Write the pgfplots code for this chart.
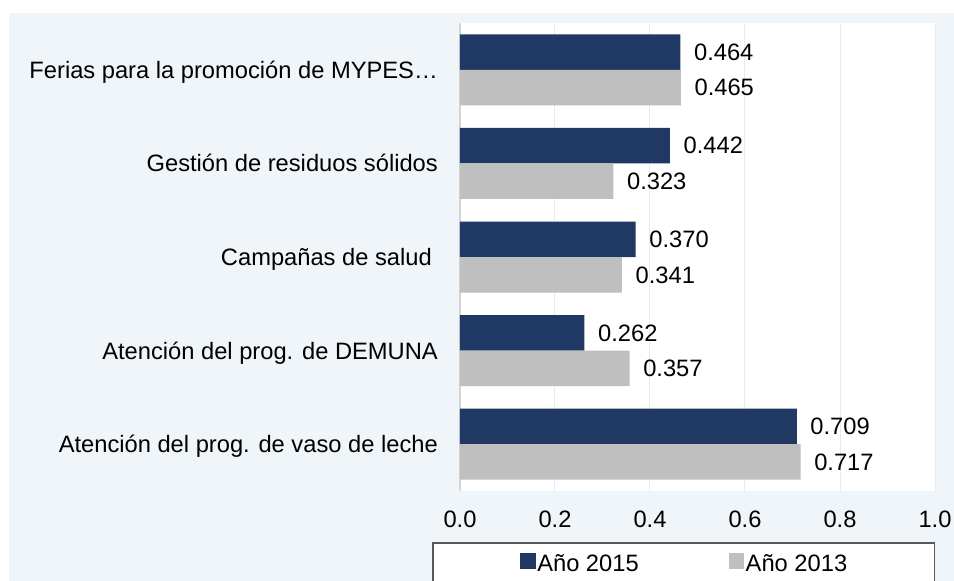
\documentclass[border=0pt]{standalone}
\usepackage{pgfplots}
\pgfplotsset{compat=1.18}
\usepackage{fontspec}
\setmainfont{Liberation Sans}
\definecolor{c15}{HTML}{203864}
\definecolor{c13}{HTML}{BFBFBF}
\definecolor{panel}{HTML}{F0F5FA}
\definecolor{gridc}{HTML}{E4EBF3}
\newcommand{\fs}{\fontsize{23.7}{28}\selectfont}
\begin{document}
\begin{tikzpicture}[x=1pt,y=1pt]
\fill[white] (0,0) rectangle (954,-581);
\fill[panel] (9,-12.7) rectangle (954,-581);
\begin{axis}[
  at={(460pt,-491pt)}, anchor=south west,
  scale only axis, width=475pt, height=468pt,
  xmin=0, xmax=1, ymin=-0.5, ymax=4.5,
  axis background/.style={fill=white},
  axis x line*=bottom, axis y line*=left,
  x axis line style={draw=none},
  y axis line style={draw=black!17, line width=1.6pt},
  major tick length=0pt,
  xtick={0,0.2,0.4,0.6,0.8,1},
  xmajorgrids, grid style={gridc, line width=1pt},
  ytick={0,1,2,3,4},
  yticklabels={Atención del prog. de vaso de leche, Atención del prog. de DEMUNA, Campañas de salud\hspace*{6pt}, Gestión de residuos sólidos, Ferias para la promoción de MYPES…},
  /pgf/number format/assume math mode=true,
  yticklabel style={font=\fs, inner sep=0pt, anchor=base east, xshift=-22pt, yshift=-8.5pt},
  xticklabel style={font=\fs, inner sep=0pt, anchor=base, yshift=-36pt,
     /pgf/number format/.cd, fixed, fixed zerofill, precision=1},
  xbar, bar width=35.5pt,
  point meta=x,
  nodes near coords,
  every node near coord/.append style={font=\fs, inner sep=0pt, anchor=base west, xshift=13.5pt, yshift=-8.3pt, text=black},
  nodes near coords style={/pgf/number format/.cd, fixed, fixed zerofill, precision=3},
  legend style={at={(-0.0589,-0.109)}, anchor=north west, draw=black!65, line width=1.5pt,
     fill=white, inner xsep=87.5pt, inner ysep=10.5pt, font=\fs,
     nodes={inner sep=0pt, text depth=12pt},
     /tikz/every odd column/.append style={column sep=1.5pt},
     /tikz/every even column/.append style={column sep=90pt}},
  legend columns=2,
  legend cell align=left,
  legend image code/.code={\fill[#1] (0pt,0pt) rectangle (15.5pt,16pt);},
]
\addplot[fill=c15, draw=none, bar shift=17.75pt] coordinates {(0.709,0) (0.262,1) (0.370,2) (0.442,3) (0.464,4)};
\addplot[fill=c13, draw=none, bar shift=-17.75pt] coordinates {(0.717,0) (0.357,1) (0.341,2) (0.323,3) (0.465,4)};
\legend{Año 2015, Año 2013}
\end{axis}
\pgfresetboundingbox
\useasboundingbox (0,0) rectangle (954,-581);
\end{tikzpicture}
\end{document}
